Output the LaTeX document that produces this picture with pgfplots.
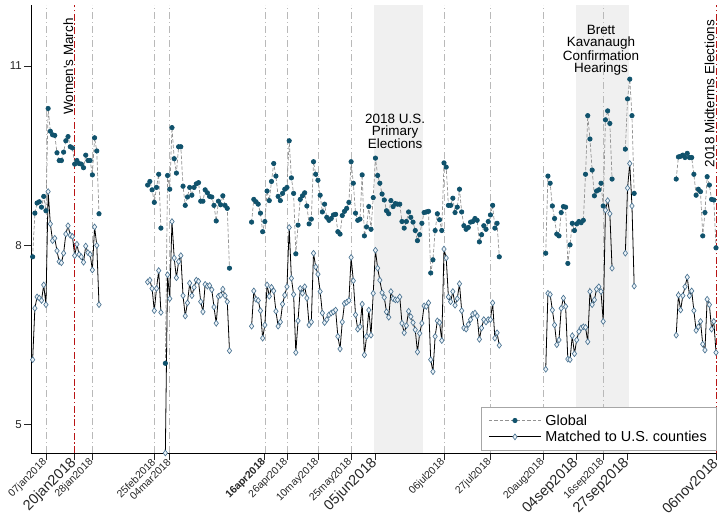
\documentclass[border=0pt]{standalone}
\usepackage{fontspec}
\setmainfont{Liberation Sans}
\usepackage{pgfplots}
\pgfplotsset{compat=1.18}
\usepackage{pgfplotstable}

\definecolor{gdot}{RGB}{16,82,108}
\definecolor{gline}{RGB}{145,145,145}
\definecolor{mdraw}{RGB}{75,115,145}
\definecolor{mfill}{RGB}{236,243,248}
\definecolor{shadec}{RGB}{240,240,240}
\definecolor{vline}{RGB}{185,185,185}
\definecolor{redl}{RGB}{185,20,20}

\pgfplotstableread{
d v
1 7.81
2 8.54
3 8.71
4 8.73
5 8.64
6 8.82
7 8.58
8 10.29
9 9.91
10 9.85
11 9.84
12 9.55
13 9.42
14 9.42
15 9.56
16 9.75
17 9.82
18 9.65
19 9.63
20 9.36
21 9.42
22 9.37
23 9.36
24 9.30
25 9.51
26 9.42
27 9.42
28 9.18
29 9.80
30 9.58
31 8.53
32 nan
53 9.01
54 9.07
55 8.93
56 8.72
57 8.97
58 9.19
59 8.29
60 nan
61 6.03
62 9.17
63 8.94
64 9.97
65 9.45
66 9.21
67 9.65
68 9.65
69 8.99
70 8.67
71 8.81
72 8.97
73 8.84
74 8.97
75 9.03
76 9.05
77 8.74
78 8.74
79 8.93
80 8.88
81 8.82
82 8.81
83 8.67
84 8.41
85 8.74
86 8.68
87 8.83
88 8.67
89 8.62
90 7.62
91 nan
100 8.39
101 8.77
102 8.73
103 8.69
104 8.54
105 8.23
106 8.40
107 8.91
108 8.75
109 9.07
110 9.37
111 9.16
112 8.82
113 8.75
114 8.87
115 8.94
116 8.97
117 9.75
118 9.13
119 8.87
120 7.86
121 8.34
122 8.77
123 8.83
124 8.88
125 8.66
126 8.36
127 8.44
128 9.40
129 9.19
130 9.09
131 8.84
132 8.56
133 8.69
134 8.47
135 8.42
136 8.45
137 8.51
138 8.52
139 8.23
140 8.19
141 8.50
142 8.57
143 8.62
144 8.72
145 9.40
146 9.04
147 8.54
148 8.42
149 8.44
150 9.18
151 8.16
152 8.31
153 8.65
154 8.27
155 8.80
156 9.46
157 9.17
158 9.04
159 8.86
160 8.76
161 8.58
162 8.53
163 8.75
164 8.65
165 8.70
166 8.69
167 8.69
168 8.40
169 8.29
170 8.40
171 8.56
172 8.47
173 8.39
174 8.25
175 8.08
176 8.18
177 8.37
178 8.55
179 8.56
180 8.57
181 7.54
182 7.76
183 8.25
184 8.53
185 8.43
186 8.25
187 9.38
188 9.31
189 8.67
190 8.67
191 8.79
192 8.55
193 8.64
194 8.94
195 8.56
196 8.33
197 8.27
198 8.30
199 8.39
200 8.40
201 8.45
202 8.42
203 8.06
204 8.18
205 8.33
206 8.27
207 8.40
208 8.51
209 8.67
210 8.29
211 8.37
212 7.81
213 nan
233 7.87
234 9.16
235 9.04
236 8.66
237 8.45
238 8.19
239 8.16
240 8.55
241 8.65
242 8.64
243 7.70
244 8.01
245 8.37
246 8.25
247 8.36
248 8.40
249 8.38
250 8.42
251 9.19
252 10.17
253 9.78
254 9.26
255 8.83
256 8.91
257 8.93
258 9.04
259 8.66
260 10.10
261 10.25
262 10.04
263 9.11
264 nan
269 9.61
270 10.45
271 10.78
272 10.17
273 8.87
274 nan
292 9.11
293 9.48
294 9.49
295 9.51
296 9.47
297 9.54
298 9.47
299 9.47
300 9.19
301 8.84
302 8.94
303 8.90
304 8.16
305 8.55
306 9.15
307 9.01
308 8.77
309 8.76
310 7.96
}\globaltab

\pgfplotstableread{
d v
1 6.09
2 6.95
3 7.14
4 7.12
5 7.08
6 7.34
7 7.01
8 8.90
9 8.36
10 8.08
11 8.12
12 7.91
13 7.73
14 7.71
15 7.87
16 8.19
17 8.33
18 8.17
19 8.15
20 7.83
21 8.02
22 7.85
23 7.81
24 7.72
25 7.99
26 7.88
27 7.85
28 7.59
29 8.31
30 8.00
31 7.01
32 nan
53 7.39
54 7.42
55 7.28
56 6.91
57 7.28
58 7.58
59 6.88
60 nan
61 4.53
62 7.51
63 7.11
64 8.40
65 7.79
66 7.46
67 7.73
68 7.83
69 7.16
70 6.82
71 7.04
72 7.37
73 7.16
74 7.30
75 7.42
76 7.40
77 7.06
78 6.89
79 7.35
80 7.32
81 7.33
82 7.26
83 6.97
84 6.70
85 7.15
86 7.17
87 7.27
88 7.16
89 7.06
90 6.24
91 nan
100 6.65
101 7.24
102 7.10
103 7.08
104 6.91
105 6.45
106 6.67
107 7.34
108 7.15
109 7.30
110 7.24
111 6.90
112 6.65
113 6.72
114 7.02
115 7.17
116 7.31
117 8.30
118 7.45
119 7.18
120 6.21
121 6.74
122 7.28
123 7.20
124 7.31
125 7.12
126 6.67
127 6.72
128 7.87
129 7.64
130 7.52
131 7.23
132 6.87
133 6.71
134 6.76
135 6.84
136 6.87
137 6.89
138 6.92
139 6.48
140 6.27
141 6.72
142 7.03
143 7.05
144 7.08
145 7.80
146 7.41
147 6.84
148 6.60
149 6.64
150 7.02
151 6.17
152 6.48
153 6.92
154 6.50
155 7.20
156 7.92
157 7.62
158 7.42
159 7.21
160 7.13
161 6.89
162 6.80
163 7.23
164 7.11
165 7.09
166 7.09
167 7.14
168 6.70
169 6.54
170 6.66
171 6.90
172 6.81
173 6.71
174 6.59
175 6.22
176 6.53
177 6.70
178 6.99
179 6.98
180 7.04
181 6.09
182 5.89
183 6.48
184 6.74
185 6.71
186 6.41
187 7.94
188 7.79
189 7.14
190 7.06
191 7.23
192 7.00
193 7.11
194 7.36
195 6.91
196 6.62
197 6.60
198 6.68
199 6.76
200 6.85
201 6.87
202 6.82
203 6.43
204 6.62
205 6.76
206 6.72
207 6.76
208 6.76
209 7.04
210 6.45
211 6.54
212 6.33
213 nan
233 5.93
234 7.20
235 7.18
236 6.92
237 6.67
238 6.34
239 6.42
240 6.95
241 7.12
242 6.98
243 6.10
244 6.09
245 6.49
246 6.19
247 6.42
248 6.56
249 6.62
250 6.64
251 6.63
252 6.39
253 7.23
254 7.01
255 7.09
256 7.27
257 7.31
258 7.23
259 6.73
260 8.59
261 8.75
262 8.53
263 7.62
264 nan
269 7.87
270 8.96
271 9.37
272 8.66
273 7.32
274 nan
292 6.50
293 7.17
294 6.92
295 7.16
296 7.31
297 7.47
298 7.16
299 7.24
300 6.91
301 6.58
302 6.64
303 6.73
304 6.35
305 6.25
306 7.10
307 7.01
308 6.60
309 6.73
310 6.21
}\matchedtab

\newcommand{\sm}{\fontsize{10.5}{10.5}\selectfont}
\newcommand{\bg}{\fontsize{14.5}{14.5}\selectfont}

\begin{document}
\begin{tikzpicture}
\begin{axis}[
  name=ax, at={(0,0)}, anchor=south west,
  scale only axis, width=685bp, height=448bp,
  xmin=0.25, xmax=310, ymin=4.53, ymax=12.02,
  axis x line*=bottom, axis y line*=left,
  axis line style={-, line width=0.8bp, black},
  clip=false,
  unbounded coords=jump,
  ytick={5,8,11},
  xtick={7,20,28,56,63,106,116,130,145,156,187,208,232,247,259,270,310},
  xticklabels={{\sm 07jan2018},{\bg 20jan2018},{\sm 28jan2018},{\sm 25feb2018},{\sm 04mar2018},{\sm\bfseries 16apr2018},{\sm 26apr2018},{\sm 10may2018},{\sm 25may2018},{\bg 05jun2018},{\sm 06jul2018},{\sm 27jul2018},{\sm 20aug2018},{\bg 04sep2018},{\sm 16sep2018},{\bg 27sep2018},{\bg 06nov2018}},
  tick align=outside,
  major tick length=7bp,
  tick style={line width=0.8bp, black!85},
  /pgf/number format/assume math mode=true,
  yticklabel style={font=\fontsize{11.5}{11.5}\selectfont, inner sep=2bp, text=black!85},
  xticklabel style={rotate=45, anchor=east, inner sep=1bp, text=black!85},
  legend style={at={(rel axis cs:1,0.006)}, anchor=south east,
    draw=black!35, line width=0.5bp, fill=white,
    font=\fontsize{14.5}{14.5}\selectfont,
    inner xsep=7bp, inner ysep=5bp, row sep=0bp,
    nodes={inner xsep=2bp, inner ysep=2.2bp},
    /tikz/every odd column/.append style={column sep=2bp}},
  legend cell align=left,
  legend image code/.code={\draw[mark repeat=2, mark phase=2, #1] plot coordinates {(0bp,0bp) (26bp,0bp) (52bp,0bp)};},
]
% shaded periods
\fill[shadec] (axis cs:155.5,4.53) rectangle (axis cs:177.5,12.02);
\fill[shadec] (axis cs:246.5,4.53) rectangle (axis cs:270.5,12.02);
% gray reference lines
\pgfplotsinvokeforeach{7,28,56,63,106,116,130,145,187,208,232,259}{
  \draw[vline, line width=0.6bp, dash pattern=on 7bp off 3bp on 1bp off 3bp] (axis cs:#1,4.53) -- (axis cs:#1,12.02);
}
% red reference lines
\pgfplotsinvokeforeach{20,310}{
  \draw[redl, line width=0.9bp, dash pattern=on 7bp off 2.5bp on 1.5bp off 2.5bp] (axis cs:#1,4.53) -- (axis cs:#1,12.02);
}

\addplot[gline, line width=0.7bp, dash pattern=on 3.5bp off 2bp,
  mark=*, mark size=2.2bp, mark options={solid, fill=gdot, draw=gdot}]
  table[x=d, y=v] {\globaltab};
\addlegendentry{Global}

\addplot[black, line width=0.8bp,
  mark=diamond*, mark size=2.9bp, mark options={solid, fill=mfill, draw=mdraw, line width=0.65bp}]
  table[x=d, y=v] {\matchedtab};
\addlegendentry{Matched to U.S. counties\hspace{4bp}}

% annotations
\node[rotate=90, anchor=south east, inner sep=0pt, font=\fontsize{13.5}{13.5}\selectfont] at (axis cs:19.4,11.80) {Women\textquotesingle s March};
\node[rotate=90, anchor=south east, inner sep=0pt, font=\fontsize{13.5}{13.5}\selectfont] at (axis cs:309.4,11.77) {2018 Midterms Elections};
\node[align=center, anchor=north, inner sep=0pt, font=\fontsize{13.5}{12}\selectfont] at (axis cs:164.9,10.20) {2018 U.S.\\Primary\\Elections};
\node[align=center, anchor=north, inner sep=0pt, font=\fontsize{13.5}{12.5}\selectfont] at (axis cs:258,11.69) {Brett\\Kavanaugh\\Confirmation\\Hearings};
\end{axis}
\pgfresetboundingbox
\path[use as bounding box] (-31bp,-71bp) rectangle (689bp,453bp);
\end{tikzpicture}
\end{document}
